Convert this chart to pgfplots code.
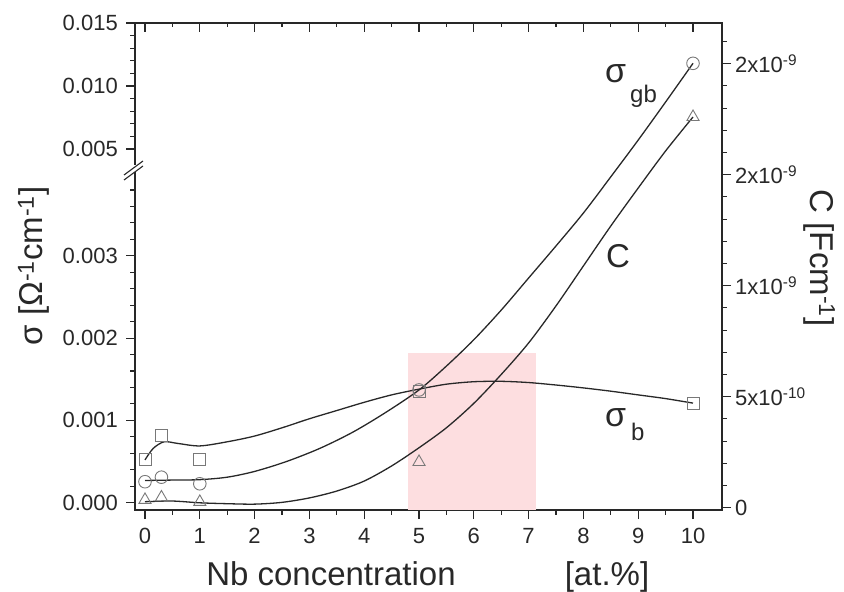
\documentclass[border=0pt]{standalone}
\usepackage{pgfplots}
\pgfplotsset{compat=1.18}
\usepackage{fontspec}
\setmainfont{Liberation Sans}
\definecolor{pinkbox}{RGB}{253,222,224}
\definecolor{mk}{RGB}{120,120,120}
\definecolor{ink}{RGB}{40,40,40}
\newcommand\tl{\fontsize{22}{26}\selectfont}
\newcommand\lb{\fontsize{33}{38}\selectfont}
\pgfplotsset{
  base/.style={scale only axis, width=587pt, height=487pt,
    xmin=-0.1825, xmax=10.529,
    axis line style={ink, line width=1.2pt},
    tick style={ink, line width=1.1pt},
    major tick length=9pt, minor tick length=4.5pt,
    tick label style={font=\tl, text=ink, inner sep=0pt},
    /pgf/number format/assume math mode=true,
    scaled y ticks=false, scaled x ticks=false},
  curve/.style={ink, line width=1.3pt, smooth, no marks},
  pts/.style={only marks, mk, mark options={line width=0.9pt, fill=none}},
}
\begin{document}
\begin{tikzpicture}
% left axis (sigma) with broken scale
\begin{axis}[base, name=A,
  ymin=-0.0000887, ymax=0.015,
  y coord trafo/.code={%
    \begingroup
    \pgfkeys{/pgf/fpu=true,/pgf/fpu/output format=fixed}%
    \pgfmathparse{(#1<0.00405) ? (#1*1000) : (4.298+(#1*1000-5)*0.1531)}%
    \pgfmathsmuggle\pgfmathresult
    \endgroup},
  tick align=outside, xtick pos=left, ytick pos=left,
  xtick={0,1,2,3,4,5,6,7,8,9,10},
  minor xtick={0.5,1.5,2.5,3.5,4.5,5.5,6.5,7.5,8.5,9.5},
  ytick={0,0.001,0.002,0.003,0.005,0.010,0.015},
  yticklabels={0.000,0.001,0.002,0.003,0.005,0.010,0.015},
  minor ytick={0.0002,0.0004,0.0006,0.0008,0.0012,0.0014,0.0016,0.0018,0.0022,0.0024,0.0026,0.0028,0.0032,0.0034,0.0036,0.0038,0.006,0.007,0.008,0.009,0.011,0.012,0.013,0.014},
  xticklabel style={yshift=-9pt},
  yticklabel style={xshift=-8pt},
]
\fill[pinkbox] (axis cs:4.80,-0.0000887) rectangle (axis cs:7.14,0.00182);
% sigma_b curve
\addplot[curve] coordinates {
(0,0.00052) (0.15,0.00066) (0.35,0.00074) (0.6,0.00072) (1,0.00069) (1.5,0.00074)
(2,0.00081) (2.5,0.00091) (3,0.00102) (3.5,0.00112) (4,0.00122) (4.5,0.00131)
(5,0.00138) (5.5,0.00144) (6,0.00147) (6.5,0.001475) (7,0.00146) (7.5,0.00143)
(8,0.001395) (8.5,0.001355) (9,0.00131) (9.5,0.001265) (10,0.00121)};
% sigma_gb curve
\addplot[curve] coordinates {
(0,0.00027) (0.5,0.000275) (1,0.00028) (1.5,0.00031) (2,0.00038) (2.58,0.00050)
(3.19,0.00066) (3.8,0.00086) (4.4,0.00110) (5,0.00137) (5.5,0.00166) (6,0.00198)
(6.5,0.00234) (7,0.00273) (7.5,0.00312) (8,0.00352) (8.5,0.00396) (9,0.00571)
(9.5,0.00873) (10,0.0118)};
\addplot[pts, mark=square, mark size=6pt] coordinates {
(0,0.00052) (0.3,0.00082) (1,0.00052) (5,0.00135) (10,0.00121)};
\addplot[pts, mark=o, mark size=6.3pt] coordinates {
(0,0.000255) (0.3,0.00031) (1,0.00023) (5,0.00137) (10,0.0118)};
\coordinate (bl) at (rel axis cs:0,0);
\end{axis}
% right axis (C)
\begin{axis}[base,
  axis x line=none, axis y line*=right, tick align=outside,
  ymin=-0.0104e-9, ymax=2.1833e-9,
  ytick={0,0.5e-9,1e-9,1.5e-9,2e-9},
  yticklabels={0,5x10\textsuperscript{-10},1x10\textsuperscript{-9},2x10\textsuperscript{-9},2x10\textsuperscript{-9}},
  minor ytick={1e-10,2e-10,3e-10,4e-10,6e-10,7e-10,8e-10,9e-10,11e-10,12e-10,13e-10,14e-10,16e-10,17e-10,18e-10,19e-10,21e-10},
  yticklabel style={xshift=4pt},
]
\addplot[curve] coordinates {
(0,0.027e-9) (0.5,0.030e-9) (1,0.022e-9) (1.5,0.018e-9) (2,0.016e-9) (2.5,0.024e-9)
(3,0.044e-9) (3.5,0.075e-9) (4,0.12e-9) (4.5,0.188e-9) (5,0.27e-9) (5.5,0.36e-9)
(6,0.47e-9) (6.5,0.60e-9) (7,0.742e-9) (7.5,0.909e-9) (8,1.089e-9) (8.5,1.269e-9)
(9,1.44e-9) (9.5,1.607e-9) (10,1.76e-9)};
\addplot[pts, mark=triangle, mark size=7pt] coordinates {
(0,0.035e-9) (0.3,0.046e-9) (1,0.026e-9) (5,0.206e-9) (10,1.76e-9)};
\end{axis}
% top ticks (inside)
\begin{axis}[base,
  axis y line=none, axis x line*=top, tick align=inside,
  ymin=0, ymax=1,
  xtick={0,1,2,3,4,5,6,7,8,9,10},
  minor xtick={0.5,1.5,2.5,3.5,4.5,5.5,6.5,7.5,8.5,9.5},
  xticklabels={},
]
\end{axis}
\coordinate (TL) at ([shift={(-135pt,510pt)}]bl);
\begin{scope}[shift={(TL)}, x=1pt, y=-1pt]
  \fill[white] (131,165) rectangle (139,172);
  \draw[ink, line width=1.1pt] (124,175)--(143,161);
  \draw[ink, line width=1.1pt] (124,180)--(143,166);
  \node[anchor=base, font=\lb, text=ink, inner sep=0pt] at (331,585) {Nb concentration};
  \node[anchor=base, font=\lb, text=ink, inner sep=0pt] at (607,585) {[at.\%]};
  \node[anchor=base, rotate=90, font=\lb, text=ink, inner sep=0pt] at (43,266) {σ [Ω\textsuperscript{-1}cm\textsuperscript{-1}]};
  \node[anchor=base, rotate=-90, font=\lb, text=ink, inner sep=0pt] at (810,258) {C [Fcm\textsuperscript{-1}]};
  \node[anchor=base west, font=\fontsize{34}{40}\selectfont, text=ink, inner sep=0pt] at (605,83) {σ};
  \node[anchor=base west, font=\fontsize{24}{28}\selectfont, text=ink, inner sep=0pt] at (630,103) {gb};
  \node[anchor=base west, font=\fontsize{33}{38}\selectfont, text=ink, inner sep=0pt] at (606,268) {C};
  \node[anchor=base west, font=\fontsize{34}{40}\selectfont, text=ink, inner sep=0pt] at (605,427) {σ};
  \node[anchor=base west, font=\fontsize{24}{28}\selectfont, text=ink, inner sep=0pt] at (631,441) {b};
  \pgfresetboundingbox
  \path[use as bounding box] (0,0) rectangle (844,592);
\end{scope}
\end{tikzpicture}
\end{document}
